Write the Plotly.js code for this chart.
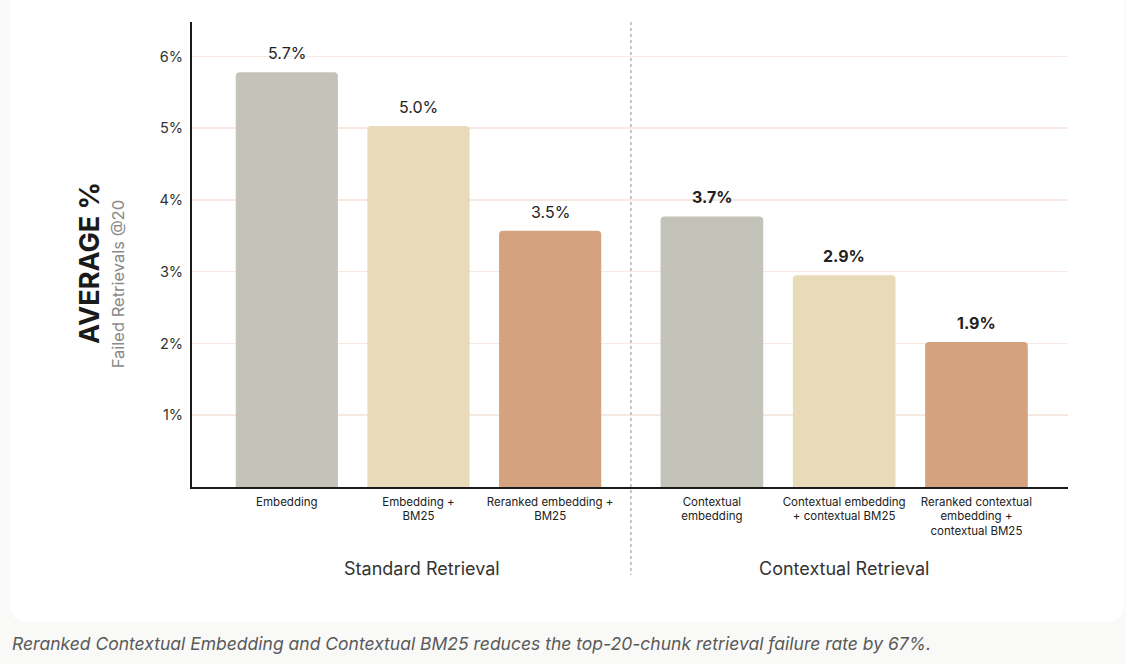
<!DOCTYPE html>
<html>
<head>
<meta charset="utf-8">
<script src="https://cdn.plot.ly/plotly-3.0.1.min.js"></script>
<style>html,body{margin:0;padding:0;background:#f9f9f7;}#chart{width:1126px;height:664px;}</style>
</head>
<body>
<div id="chart"></div>
<script>
// ---- data ----
const standardCategories = ["Embedding", "Embedding +<br>BM25", "Reranked embedding +<br>BM25"];
const standardValues = [5.78, 5.03, 3.57];
const standardLabels = ["5.7%", "5.0%", "3.5%"];

const contextualCategories = ["Contextual<br>embedding", "Contextual embedding<br>+ contextual BM25", "Reranked contextual<br>embedding +<br>contextual BM25"];
const contextualValues = [3.77, 2.95, 2.02];
const contextualLabels = ["3.7%", "2.9%", "1.9%"];

const barColors = ["#c3c3b9", "#e9dbb9", "#d4a27f"];
const yTickVals = [1, 2, 3, 4, 5, 6];
const yTickText = ["1%", "2%", "3%", "4%", "5%", "6%"];
const groupNames = ["Standard Retrieval", "Contextual Retrieval"];
const yTitle = "AVERAGE %";
const ySubtitle = "Failed Retrievals @20";
const caption = "Reranked Contextual Embedding and Contextual BM25 reduces the top-20-chunk retrieval failure rate by 67%.";

const FONT = "Inter, 'Noto Sans', sans-serif";

const traces = [
  {x: [], y: [], type: "scatter", xaxis: "x", yaxis: "y", showlegend: false, hoverinfo: "skip"},
  {x: standardCategories, y: standardValues, type: "bar", xaxis: "x2", yaxis: "y",
   marker: {color: barColors, cornerradius: 4}, showlegend: false, hoverinfo: "skip"},
  {x: contextualCategories, y: contextualValues, type: "bar", xaxis: "x3", yaxis: "y",
   marker: {color: barColors, cornerradius: 4}, showlegend: false, hoverinfo: "skip"}
];

const annotations = [];
standardCategories.forEach((c, i) => annotations.push({
  x: c, y: standardValues[i], xref: "x2", yref: "y", text: standardLabels[i],
  showarrow: false, yanchor: "bottom", yshift: 7,
  font: {family: FONT, size: 16, color: "#222"}
}));
contextualCategories.forEach((c, i) => annotations.push({
  x: c, y: contextualValues[i], xref: "x3", yref: "y", text: "<b>" + contextualLabels[i] + "</b>",
  showarrow: false, yanchor: "bottom", yshift: 7,
  font: {family: FONT, size: 16, color: "#222"}
}));
annotations.push({
  x: 0.5, y: -0.175, xref: "x2 domain", yref: "paper", text: groupNames[0],
  showarrow: false, xanchor: "center", yanchor: "middle", xshift: 4,
  font: {family: FONT, size: 18, color: "#333"}
});
annotations.push({
  x: 0.5, y: -0.175, xref: "x3 domain", yref: "paper", text: groupNames[1],
  showarrow: false, xanchor: "center", yanchor: "middle",
  font: {family: FONT, size: 18, color: "#333"}
});
annotations.push({
  x: -0.1164, y: 0.482, xref: "paper", yref: "paper", text: "<b>" + yTitle + "</b>",
  showarrow: false, textangle: -90, xanchor: "center", yanchor: "middle",
  font: {family: FONT, size: 27, color: "#1a1a1a"}
});
annotations.push({
  x: -0.085, y: 0.435, xref: "paper", yref: "paper", text: ySubtitle,
  showarrow: false, textangle: -90, xanchor: "center", yanchor: "middle",
  font: {family: FONT, size: 16.5, color: "#8a8a8a"}
});
annotations.push({
  x: -0.2078, y: -0.3376, xref: "paper", yref: "paper", text: "<i>" + caption + "</i>",
  showarrow: false, xanchor: "left", yanchor: "middle",
  font: {family: FONT, size: 17.5, color: "#5a5a5a"}
});

const layout = {
  width: 1126, height: 664,
  margin: {l: 192, r: 58, t: 22, b: 177},
  paper_bgcolor: "#f9f9f7",
  plot_bgcolor: "rgba(0,0,0,0)",
  font: {family: FONT, color: "#222"},
  bargap: 0.224,
  xaxis: {domain: [0, 1], range: [0, 1], showgrid: false, zeroline: false, showticklabels: false,
          showline: true, linecolor: "#1a1a1a", linewidth: 2, anchor: "y", fixedrange: true},
  xaxis2: {domain: [0.0331, 0.484], anchor: "y", type: "category", showgrid: false, zeroline: false,
           showline: false, ticks: "", ticklabelstandoff: 6, tickfont: {family: FONT, size: 11.5, color: "#222"}},
  xaxis3: {domain: [0.518, 0.971], anchor: "y", type: "category", showgrid: false, zeroline: false,
           showline: false, ticks: "", ticklabelstandoff: 6, tickfont: {family: FONT, size: 11.5, color: "#222"}},
  yaxis: {range: [0, 6.48], anchor: "x", tickmode: "array", tickvals: yTickVals, ticktext: yTickText,
          showgrid: true, gridcolor: "#f6e9e2", gridwidth: 1.5, zeroline: false,
          showline: true, linecolor: "#1a1a1a", linewidth: 2, ticks: "", ticklabelstandoff: 4,
          tickfont: {family: FONT, size: 14.5, color: "#333"}},
  shapes: [
    {type: "path", xref: "paper", yref: "paper", layer: "below",
     path: roundedRect(), fillcolor: "#ffffff", line: {width: 0}},
    {type: "line", xref: "paper", yref: "paper", x0: 0.501, x1: 0.501, y0: 1, y1: -0.189,
     line: {color: "#b5b5b5", width: 1.5, dash: "3px,3px"}}
  ],
  annotations: annotations
};

function roundedRect() {
  const L = 192, T = 22, W = 876, H = 465;
  const px = v => (v - L) / W, py = v => (T + H - v) / H;
  const x0 = 10, x1 = 1124, y0 = -20, y1 = 622, r = 18;
  return `M ${px(x0 + r)} ${py(y0)} L ${px(x1 - r)} ${py(y0)} Q ${px(x1)} ${py(y0)} ${px(x1)} ${py(y0 + r)} ` +
         `L ${px(x1)} ${py(y1 - r)} Q ${px(x1)} ${py(y1)} ${px(x1 - r)} ${py(y1)} ` +
         `L ${px(x0 + r)} ${py(y1)} Q ${px(x0)} ${py(y1)} ${px(x0)} ${py(y1 - r)} ` +
         `L ${px(x0)} ${py(y0 + r)} Q ${px(x0)} ${py(y0)} ${px(x0 + r)} ${py(y0)} Z`;
}

Plotly.newPlot("chart", traces, layout, {displayModeBar: false, staticPlot: true});
</script>
</body>
</html>
